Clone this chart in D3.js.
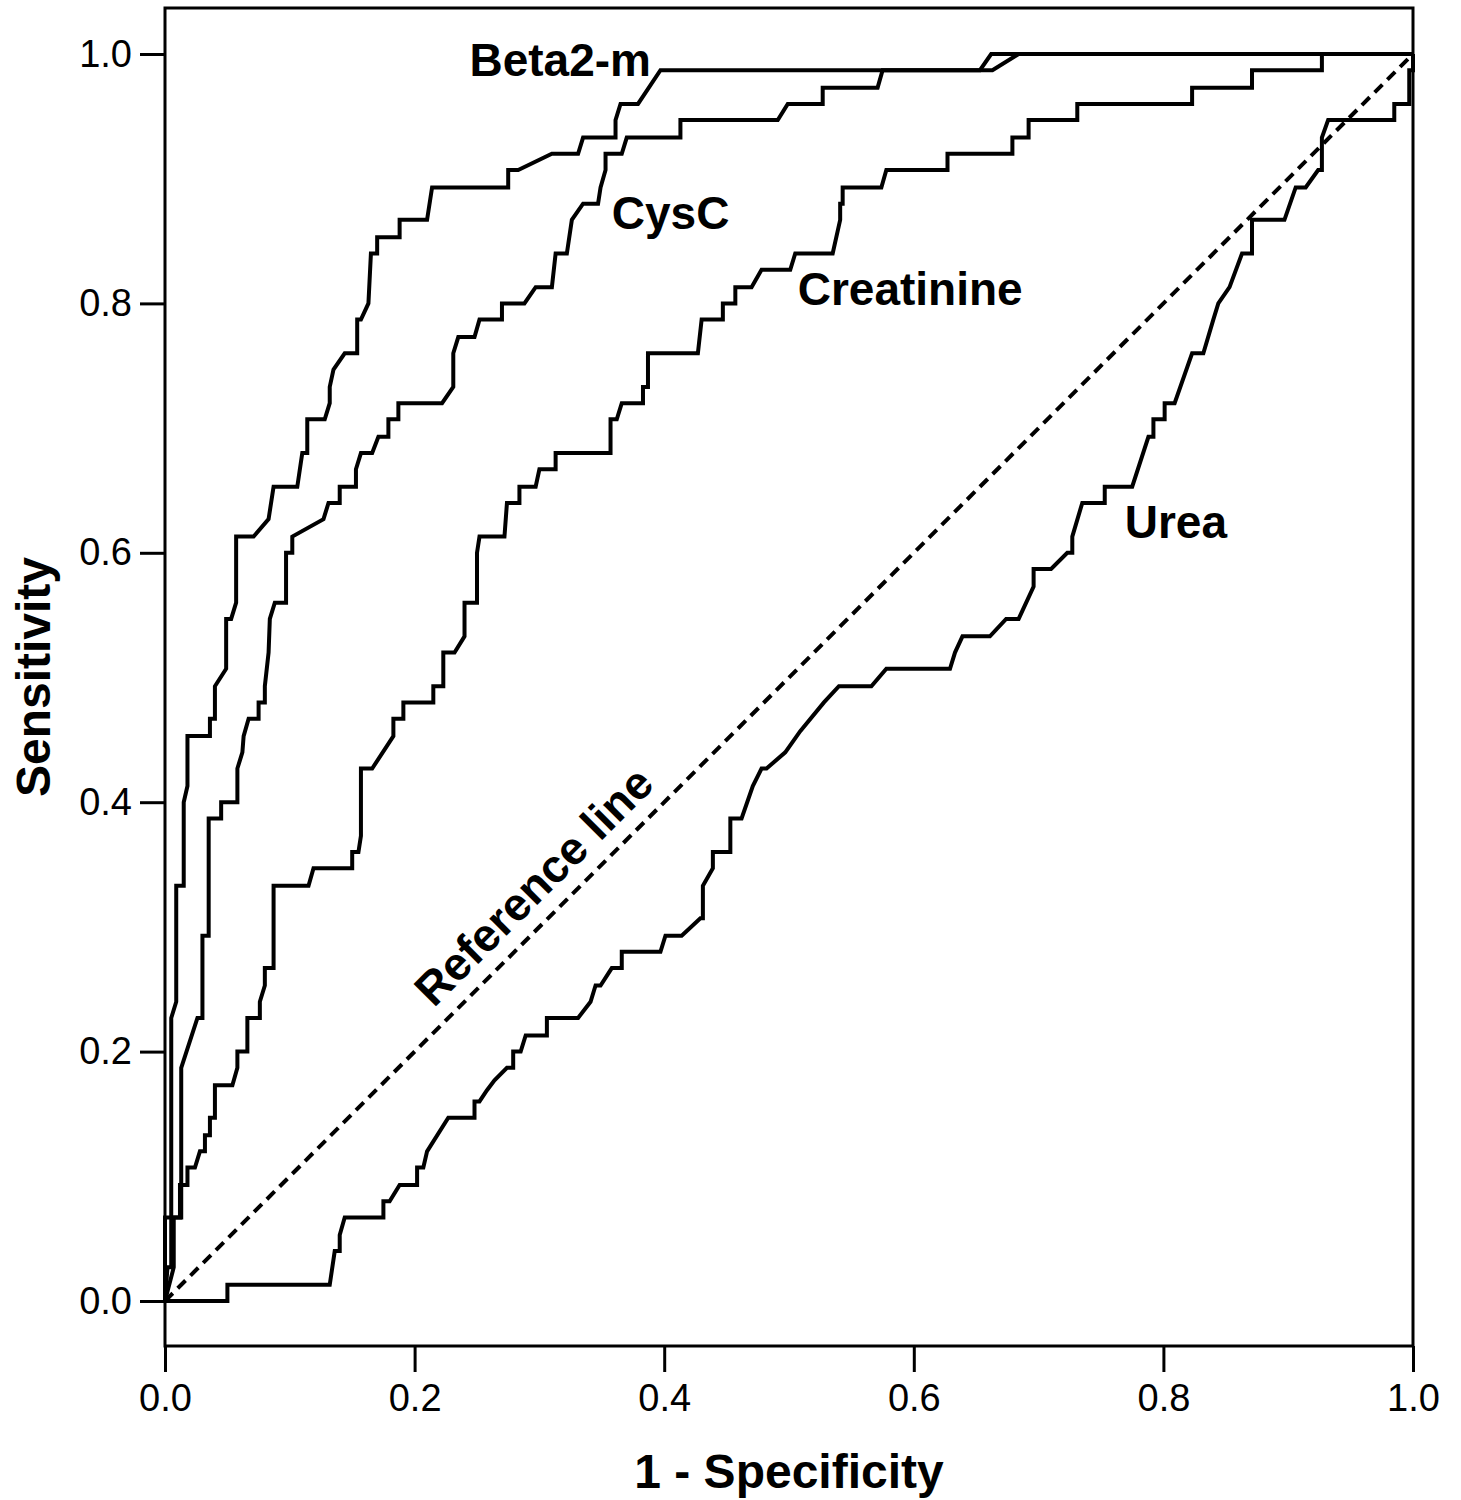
<!DOCTYPE html>
<html>
<head>
<meta charset="utf-8">
<script src="https://cdn.jsdelivr.net/npm/d3@7"></script>
<style>
  body { margin: 0; background: #fff; }
  svg text { font-family: "Liberation Sans", Arial, Helvetica, sans-serif; fill: #000; }
</style>
</head>
<body>
<svg id="chart" width="1461" height="1500"></svg>
<script>
// ROC curves, points as [1 - specificity, sensitivity]
const beta2m = [
  [0, 0], [0.002, 0.027], [0.005, 0.027], [0.005, 0.227], [0.009, 0.240], [0.009, 0.333],
  [0.015, 0.333], [0.015, 0.400], [0.018, 0.413], [0.018, 0.453], [0.036, 0.453], [0.036, 0.467],
  [0.040, 0.467], [0.040, 0.493], [0.049, 0.507], [0.049, 0.547], [0.053, 0.547], [0.057, 0.560],
  [0.057, 0.613], [0.071, 0.613], [0.083, 0.627], [0.087, 0.653], [0.106, 0.653], [0.110, 0.680],
  [0.114, 0.680], [0.114, 0.707], [0.128, 0.707], [0.132, 0.720], [0.132, 0.733], [0.135, 0.747],
  [0.144, 0.760], [0.154, 0.760], [0.154, 0.787], [0.157, 0.787], [0.163, 0.800], [0.165, 0.840],
  [0.170, 0.840], [0.170, 0.853], [0.188, 0.853], [0.188, 0.867], [0.210, 0.867], [0.214, 0.893],
  [0.275, 0.893], [0.275, 0.907], [0.283, 0.907], [0.310, 0.920], [0.331, 0.920], [0.335, 0.933],
  [0.361, 0.933], [0.361, 0.947], [0.365, 0.960], [0.379, 0.960], [0.397, 0.987], [0.653, 0.987],
  [0.662, 1], [1, 1]
];

const cysC = [
  [0, 0], [0.007, 0.027], [0.007, 0.067], [0.013, 0.067], [0.013, 0.187], [0.026, 0.227],
  [0.030, 0.227], [0.030, 0.293], [0.035, 0.293], [0.035, 0.387], [0.045, 0.387], [0.045, 0.400],
  [0.058, 0.400], [0.058, 0.427], [0.062, 0.440], [0.063, 0.453], [0.067, 0.467], [0.075, 0.467],
  [0.075, 0.480], [0.080, 0.480], [0.080, 0.493], [0.083, 0.520], [0.084, 0.547], [0.088, 0.560],
  [0.097, 0.560], [0.097, 0.600], [0.102, 0.600], [0.102, 0.613], [0.127, 0.627], [0.131, 0.640],
  [0.140, 0.640], [0.140, 0.653], [0.153, 0.653], [0.153, 0.667], [0.157, 0.680], [0.166, 0.680],
  [0.171, 0.693], [0.179, 0.693], [0.179, 0.707], [0.187, 0.707], [0.187, 0.720], [0.222, 0.720],
  [0.231, 0.733], [0.231, 0.760], [0.235, 0.773], [0.248, 0.773], [0.252, 0.787], [0.270, 0.787],
  [0.270, 0.800], [0.288, 0.800], [0.297, 0.813], [0.310, 0.813], [0.313, 0.840], [0.322, 0.840],
  [0.326, 0.867], [0.335, 0.880], [0.347, 0.880], [0.349, 0.893], [0.353, 0.907], [0.353, 0.920],
  [0.366, 0.920], [0.370, 0.933], [0.413, 0.933], [0.413, 0.947], [0.491, 0.947], [0.499, 0.960],
  [0.527, 0.960], [0.527, 0.973], [0.571, 0.973], [0.575, 0.987], [0.663, 0.987], [0.684, 1], [1, 1]
];

const creatinine = [
  [0, 0], [0, 0.067], [0.012, 0.067], [0.012, 0.093], [0.018, 0.093], [0.018, 0.107],
  [0.024, 0.107], [0.028, 0.120], [0.032, 0.120], [0.032, 0.133], [0.036, 0.133], [0.036, 0.147],
  [0.040, 0.147], [0.040, 0.173], [0.054, 0.173], [0.058, 0.187], [0.058, 0.200], [0.066, 0.200],
  [0.066, 0.227], [0.076, 0.227], [0.076, 0.240], [0.080, 0.253], [0.080, 0.267], [0.087, 0.267],
  [0.087, 0.333], [0.115, 0.333], [0.119, 0.347], [0.150, 0.347], [0.150, 0.360], [0.155, 0.360],
  [0.157, 0.373], [0.157, 0.427], [0.166, 0.427], [0.183, 0.453], [0.183, 0.467], [0.191, 0.467],
  [0.191, 0.480], [0.215, 0.480], [0.215, 0.493], [0.223, 0.493], [0.223, 0.520], [0.232, 0.520],
  [0.240, 0.533], [0.240, 0.560], [0.250, 0.560], [0.250, 0.600], [0.252, 0.613], [0.272, 0.613],
  [0.274, 0.640], [0.284, 0.640], [0.284, 0.653], [0.297, 0.653], [0.300, 0.667], [0.313, 0.667],
  [0.313, 0.680], [0.357, 0.680], [0.357, 0.707], [0.362, 0.707], [0.366, 0.720], [0.383, 0.720],
  [0.383, 0.733], [0.387, 0.733], [0.387, 0.760], [0.427, 0.760], [0.430, 0.787], [0.447, 0.787],
  [0.447, 0.800], [0.457, 0.800], [0.457, 0.813], [0.470, 0.813], [0.478, 0.827], [0.501, 0.827],
  [0.505, 0.840], [0.535, 0.840], [0.541, 0.867], [0.541, 0.880], [0.543, 0.880], [0.543, 0.893],
  [0.574, 0.893], [0.578, 0.907], [0.627, 0.907], [0.627, 0.920], [0.679, 0.920], [0.679, 0.933],
  [0.692, 0.933], [0.692, 0.947], [0.731, 0.947], [0.731, 0.960], [0.823, 0.960], [0.823, 0.973],
  [0.871, 0.973], [0.871, 0.987], [0.927, 0.987], [0.927, 1], [1, 1]
];

const urea = [
  [0, 0], [0.050, 0], [0.050, 0.013], [0.132, 0.013], [0.136, 0.040], [0.140, 0.040],
  [0.140, 0.053], [0.144, 0.067], [0.175, 0.067], [0.175, 0.080], [0.180, 0.080], [0.188, 0.093],
  [0.202, 0.093], [0.202, 0.107], [0.207, 0.107], [0.210, 0.120], [0.227, 0.147], [0.248, 0.147],
  [0.248, 0.160], [0.252, 0.160], [0.258, 0.169], [0.264, 0.177], [0.274, 0.187], [0.279, 0.187],
  [0.279, 0.200], [0.285, 0.200], [0.289, 0.213], [0.306, 0.213], [0.306, 0.227], [0.331, 0.227],
  [0.341, 0.240], [0.345, 0.253], [0.349, 0.253], [0.358, 0.267], [0.366, 0.267], [0.366, 0.280],
  [0.397, 0.280], [0.401, 0.293], [0.414, 0.293], [0.429, 0.307], [0.431, 0.307], [0.431, 0.333],
  [0.439, 0.347], [0.439, 0.360], [0.453, 0.360], [0.453, 0.387], [0.462, 0.387], [0.471, 0.413],
  [0.478, 0.427], [0.482, 0.427], [0.497, 0.440], [0.509, 0.457], [0.528, 0.480], [0.540, 0.493],
  [0.566, 0.493], [0.578, 0.507], [0.629, 0.507], [0.633, 0.520], [0.639, 0.533], [0.661, 0.533],
  [0.674, 0.547], [0.684, 0.547], [0.696, 0.573], [0.696, 0.587], [0.710, 0.587], [0.723, 0.600],
  [0.727, 0.600], [0.727, 0.613], [0.735, 0.640], [0.753, 0.640], [0.753, 0.653], [0.775, 0.653],
  [0.788, 0.693], [0.792, 0.693], [0.792, 0.707], [0.801, 0.707], [0.801, 0.720], [0.809, 0.720],
  [0.823, 0.760], [0.832, 0.760], [0.840, 0.787], [0.844, 0.800], [0.853, 0.813], [0.863, 0.840],
  [0.871, 0.840], [0.871, 0.867], [0.897, 0.867], [0.906, 0.893], [0.914, 0.893], [0.924, 0.907],
  [0.927, 0.907], [0.927, 0.933], [0.932, 0.947], [0.985, 0.947], [0.985, 0.960], [0.997, 0.960],
  [0.997, 0.987], [1, 0.987], [1, 1]
];

const reference = [[0, 0], [1, 1]];
const ticks = [0, 0.2, 0.4, 0.6, 0.8, 1.0];

const svg = d3.select('#chart');

const frameLeft = 165, frameRight = 1413, frameTop = 8, frameBottom = 1346;

const x = d3.scaleLinear().domain([0, 1]).range([frameLeft, frameRight]);
// y axis runs a little past 0 and 1 at both ends
const y = d3.scaleLinear().domain([0, 1]).range([1301, 54]);

const line = d3.line().x((d) => x(d[0])).y((d) => y(d[1]));

// axes
const xAxis = svg.append('g')
  .attr('transform', `translate(0,${frameBottom})`)
  .call(d3.axisBottom(x).tickValues(ticks).tickFormat(d3.format('.1f')).tickSize(26).tickPadding(12));

const yAxis = svg.append('g')
  .attr('transform', `translate(${frameLeft},0)`)
  .call(d3.axisLeft(y).tickValues(ticks).tickFormat(d3.format('.1f')).tickSize(25).tickPadding(8));

[xAxis, yAxis].forEach((g) => {
  g.select('.domain').remove();
  g.selectAll('line').attr('stroke', '#000').attr('stroke-width', 3);
  g.selectAll('text').style('font-size', '38px').attr('fill', '#000');
});

// frame
svg.append('rect')
  .attr('x', frameLeft).attr('y', frameTop)
  .attr('width', frameRight - frameLeft).attr('height', frameBottom - frameTop)
  .attr('fill', 'none').attr('stroke', '#000').attr('stroke-width', 3);

// reference diagonal
svg.append('path')
  .datum(reference)
  .attr('fill', 'none')
  .attr('stroke', '#000')
  .attr('stroke-width', 4)
  .attr('stroke-dasharray', '11,7')
  .attr('d', line);

// ROC curves
[beta2m, cysC, creatinine, urea].forEach((data) => {
  svg.append('path')
    .datum(data)
    .attr('fill', 'none')
    .attr('stroke', '#000')
    .attr('stroke-width', 4)
    .attr('stroke-linejoin', 'miter')
    .attr('d', line);
});

// curve labels
const labels = [
  { text: 'Beta2-m', at: [0.244, 0.982] },
  { text: 'CysC', at: [0.358, 0.860] },
  { text: 'Creatinine', at: [0.507, 0.799] },
  { text: 'Urea', at: [0.769, 0.612] }
];

svg.selectAll('.curve-label')
  .data(labels)
  .enter()
  .append('text')
  .attr('class', 'curve-label')
  .attr('x', (d) => x(d.at[0]))
  .attr('y', (d) => y(d.at[1]))
  .style('font-size', '46px')
  .style('font-weight', 'bold')
  .text((d) => d.text);

// label along the reference line
const angle = Math.atan2(y(1) - y(0), x(1) - x(0)) * 180 / Math.PI;
const off = 17 / Math.SQRT2;
svg.append('text')
  .attr('transform', `translate(${x(0.314) - off},${y(0.314) - off}) rotate(${angle})`)
  .attr('text-anchor', 'middle')
  .style('font-size', '46px')
  .style('font-weight', 'bold')
  .text('Reference line');

// axis titles
svg.append('text')
  .attr('x', (frameLeft + frameRight) / 2)
  .attr('y', 1488)
  .attr('text-anchor', 'middle')
  .style('font-size', '48px')
  .style('font-weight', 'bold')
  .text('1 - Specificity');

svg.append('text')
  .attr('transform', `translate(50,${(frameTop + frameBottom) / 2}) rotate(-90)`)
  .attr('text-anchor', 'middle')
  .style('font-size', '48px')
  .style('font-weight', 'bold')
  .text('Sensitivity');
</script>
</body>
</html>
